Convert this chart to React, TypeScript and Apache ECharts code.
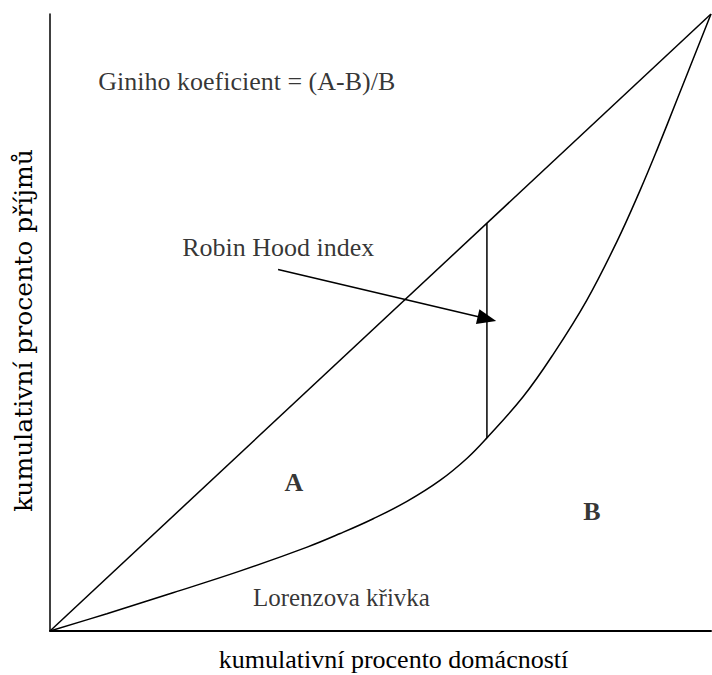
import React, { useEffect, useRef } from "react";
import * as echarts from "echarts";

// Cumulative % of households (x) vs cumulative % of income (y)
const lorenzX = [0, 8.6, 18.6, 28.7, 38.9, 43.9, 48.9, 54.0, 59.0, 63.1, 66.1, 71.6, 76.1, 81.2, 85.8, 89.3, 91.8, 95.0, 100];
const lorenzY = [0, 2.8, 6.2, 9.7, 13.6, 15.8, 18.2, 21.0, 24.4, 28.0, 31.3, 38.0, 44.8, 53.6, 63.2, 71.5, 77.9, 86.5, 100];
const equalityX = [0, 100];
const equalityY = [0, 100];
const robinHoodX = 66.1;
const robinHoodBottom = 31.3;
const robinHoodTop = 66.1;
const arrowFrom = [34.5, 58.6];
const arrowTo = [66.1, 50.6];

const xAxisTitle = "kumulativní procento domácností";
const yAxisTitle = "kumulativní procento příjmů";
const giniText = "Giniho koeficient = (A-B)/B";
const robinText = "Robin Hood index";
const lorenzText = "Lorenzova křivka";
const labelA = "A";
const labelB = "B";
const labelPosA = [36.9, 24.0];
const labelPosB = [82.0, 19.3];
const giniPos = [7.3, 89.1];
const robinPos = [20.0, 62.2];
const lorenzPos = [30.7, 5.4];

const SERIF = "Liberation Serif";

export default function App() {
  const ref = useRef<HTMLDivElement>(null);
  useEffect(() => {
    document.body.style.margin = "0";
    const chart = echarts.init(ref.current!, null, { renderer: "svg" });
    const textPoint = (pos: number[], text: string, align: string, bold = false, size = 26) => ({
      value: pos,
      label: {
        show: true,
        formatter: text,
        position: "inside",
        align,
        verticalAlign: "middle",
        color: "#000",
        fontFamily: SERIF,
        fontSize: size,
        fontWeight: bold ? "bold" : "normal",
      },
    });
    chart.setOption({
      animation: false,
      backgroundColor: "#fff",
      grid: { left: 50, right: 1, top: 14, bottom: 44, containLabel: false, outerBoundsMode: "none" },
      xAxis: {
        type: "value",
        min: 0,
        max: 100,
        name: xAxisTitle,
        nameLocation: "middle",
        nameGap: 15,
        nameTextStyle: { fontFamily: SERIF, fontSize: 26, color: "#000", padding: [0, 0, 0, 26] },
        axisLine: { show: true, onZero: false, lineStyle: { color: "#000", width: 2 } },
        axisTick: { show: false },
        axisLabel: { show: false },
        splitLine: { show: false },
      },
      yAxis: {
        type: "value",
        min: 0,
        max: 100,
        name: yAxisTitle,
        nameLocation: "middle",
        nameGap: 14,
        nameTextStyle: { fontFamily: "DejaVu Serif", fontSize: 25, color: "#000", padding: [0, 16, 0, 0] },
        axisLine: { show: true, onZero: false, lineStyle: { color: "#000", width: 1.5 } },
        axisTick: { show: false },
        axisLabel: { show: false },
        splitLine: { show: false },
      },
      series: [
        {
          type: "line",
          data: equalityX.map((x, i) => [x, equalityY[i]]),
          symbol: "none",
          lineStyle: { color: "#000", width: 1.5 },
          silent: true,
        },
        {
          type: "line",
          data: lorenzX.map((x, i) => [x, lorenzY[i]]),
          symbol: "none",
          smooth: 0.4,
          lineStyle: { color: "#000", width: 1.5 },
          silent: true,
        },
        {
          type: "line",
          data: [
            [robinHoodX, robinHoodBottom],
            [robinHoodX, robinHoodTop],
          ],
          symbol: "none",
          lineStyle: { color: "#000", width: 1.5 },
          silent: true,
          markLine: {
            silent: true,
            symbol: ["none", "triangle"],
            label: { show: false },
            lineStyle: { color: "#000", width: 1.5, type: "solid" },
            data: [
              [
                { coord: arrowFrom, symbol: "none" },
                { coord: arrowTo, symbol: "triangle", symbolSize: [15, 19] },
              ],
            ],
          },
        },
        {
          type: "scatter",
          symbolSize: 0,
          silent: true,
          data: [
            textPoint(giniPos, giniText, "left"),
            textPoint(robinPos, robinText, "left"),
            textPoint(lorenzPos, lorenzText, "left", false, 25),
            textPoint(labelPosA, labelA, "center", true, 26),
            textPoint(labelPosB, labelB, "center", true, 26),
          ],
        },
      ],
    });
    return () => chart.dispose();
  }, []);
  return <div ref={ref} style={{ width: 712, height: 675 }} />;
}
